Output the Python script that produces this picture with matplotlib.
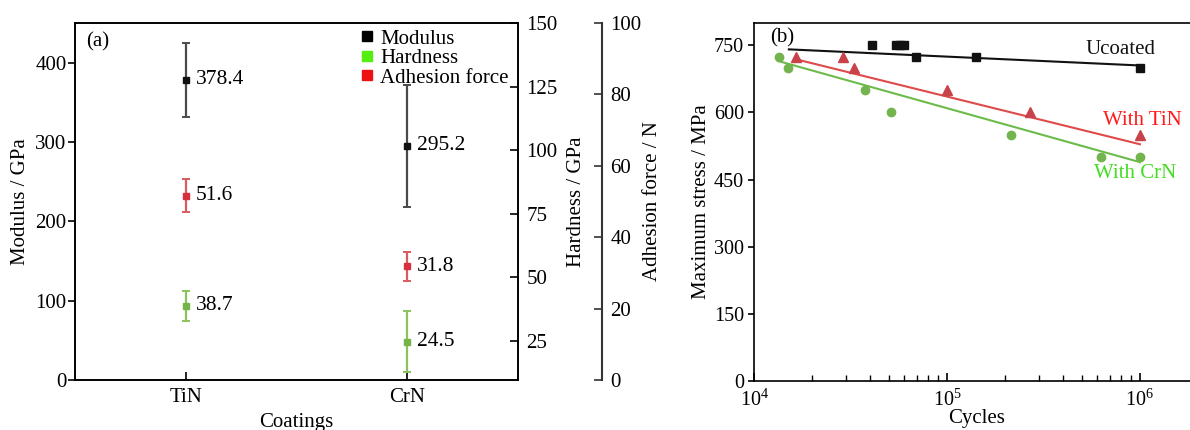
import numpy as np
import matplotlib
matplotlib.use("Agg")
import matplotlib.pyplot as plt
from matplotlib.lines import Line2D

plt.rcParams["font.family"] = ["Liberation Serif", "DejaVu Serif"]
plt.rcParams["mathtext.fontset"] = "custom"
plt.rcParams["mathtext.rm"] = "Liberation Serif"

# ---- panel (a) data ----
coatings = ["TiN", "CrN"]
modulus = [378.4, 295.2]
modulus_err = [47, 77]
hardness = [38.7, 24.5]
hardness_err = [6, 12]
adhesion = [51.6, 31.8]
adhesion_err = [4.6, 4.0]

# ---- panel (b) data ----
unc_cycles = [4.07e4, 5.4e4, 5.7e4, 5.95e4, 6.9e4, 1.42e5, 1.0e6]
unc_stress = [750, 750, 750, 750, 725, 725, 700]
tin_cycles = [1.64e4, 2.9e4, 3.3e4, 1.0e5, 2.7e5, 1.0e6]
tin_stress = [725, 725, 700, 650, 600, 550]
crn_cycles = [1.35e4, 1.49e4, 3.75e4, 5.1e4, 2.15e5, 6.3e5, 1.0e6]
crn_stress = [725, 700, 650, 600, 550, 500, 500]
# trend lines (start, end)
unc_fit_x = [1.51e4, 1.0e6]
unc_fit_y = [741, 705]
tin_fit_x = [1.64e4, 1.0e6]
tin_fit_y = [719, 529]
crn_fit_x = [1.33e4, 1.0e6]
crn_fit_y = [715, 489]

fig = plt.figure(figsize=(11.9, 4.3), dpi=100)

# ================= panel (a) =================
ax = fig.add_axes([0.063, 0.1163, 0.3723, 0.8302])
ax2 = ax.twinx()
ax3 = ax.twinx()
ax3.spines["right"].set_position(("axes", 1.19))
for s in ["top", "left", "bottom"]:
    ax3.spines[s].set_visible(False)
ax3.spines["right"].set_color("#333333")
ax3.spines["right"].set_linewidth(1.5)

x = np.arange(len(coatings))

ax.errorbar(x, modulus, yerr=modulus_err, fmt="s", ms=5, color="#111111",
            ecolor="#4a4a4a", elinewidth=1.6, capsize=3, capthick=1.4)
ax2.errorbar(x, hardness, yerr=hardness_err, fmt="s", ms=5, color="#74b446",
             ecolor="#8cc25e", elinewidth=1.6, capsize=3, capthick=1.4)
ax3.errorbar(x, adhesion, yerr=adhesion_err, fmt="s", ms=5, color="#d5303c",
             ecolor="#d95a60", elinewidth=1.6, capsize=3, capthick=1.4)

for i in range(len(coatings)):
    ax.annotate(f"{modulus[i]}", (x[i], modulus[i]), xytext=(7, 0),
                textcoords="offset points", va="center", fontsize=15.5)
    ax2.annotate(f"{hardness[i]}", (x[i], hardness[i]), xytext=(7, 0),
                 textcoords="offset points", va="center", fontsize=15.5)
    ax3.annotate(f"{adhesion[i]}", (x[i], adhesion[i]), xytext=(7, 0),
                 textcoords="offset points", va="center", fontsize=15.5)

ax.set_xlim(-0.5, 1.5)
ax.set_ylim(0, 450)
ax.set_yticks([0, 100, 200, 300, 400])
ax.set_xticks(x)
ax.set_xticklabels(coatings)
ax2.set_ylim(9.5, 150)
ax2.set_yticks([25, 50, 75, 100, 125, 150])
ax3.set_ylim(0, 100)
ax3.set_yticks([0, 20, 40, 60, 80, 100])

ax.tick_params(axis="y", direction="out", length=5, width=1.2, labelsize=15, pad=1)
ax.tick_params(axis="x", direction="in", length=6, width=1.2, labelsize=15, pad=6)
ax2.tick_params(axis="y", direction="in", length=6, width=1.2, labelsize=15, pad=6)
ax3.tick_params(axis="y", direction="in", length=6, width=1.2, labelsize=15, pad=6,
                color="#333333")
for a in (ax, ax2):
    for s in a.spines.values():
        s.set_linewidth(1.2)

ax.set_xlabel("Coatings", fontsize=15, labelpad=4)
ax.set_ylabel("Modulus / GPa", fontsize=15, labelpad=4)
ax2.set_ylabel("Hardness / GPa", fontsize=15, labelpad=7)
ax3.set_ylabel("Adhesion force / N", fontsize=15, labelpad=1)
ax.text(0.025, 0.975, "(a)", transform=ax.transAxes, fontsize=15, va="top")

handles = [
    Line2D([], [], marker="s", ls="none", color="#000000", ms=7),
    Line2D([], [], marker="s", ls="none", color="#55ee11", ms=7),
    Line2D([], [], marker="s", ls="none", color="#ee1111", ms=7),
]
ax.legend(handles, ["Modulus", "Hardness", "Adhesion force"], loc="upper left",
          bbox_to_anchor=(0.635, 0.995), frameon=False, fontsize=15,
          labelspacing=0.0, handlelength=0.6, handletextpad=0.35,
          borderaxespad=0.0, borderpad=0.2)

# ================= panel (b) =================
bx = fig.add_axes([0.6339, 0.114, 0.3728, 0.8326])
bx.set_xscale("log")
bx.plot(unc_fit_x, unc_fit_y, color="#111111", lw=1.5)
bx.plot(tin_fit_x, tin_fit_y, color="#df4a4a", lw=1.5)
bx.plot(crn_fit_x, crn_fit_y, color="#6cbb4a", lw=1.5)
bx.plot(unc_cycles, unc_stress, "s", color="#111111", ms=6)
bx.plot(tin_cycles, tin_stress, "^", color="#c8424a", ms=7)
bx.plot(crn_cycles, crn_stress, "o", color="#74b44e", ms=6)

bx.text(7.9e5, 741, "Ucoated", fontsize=15, ha="center", va="center", color="#111111")
bx.text(1.03e6, 582, "With TiN", fontsize=15, ha="center", va="center", color="#ff1a1a")
bx.text(9.4e5, 464, "With CrN", fontsize=15, ha="center", va="center", color="#44dd22")
bx.text(0.035, 0.985, "(b)", transform=bx.transAxes, fontsize=15, va="top")

bx.set_xlim(1e4, 2e6)
bx.set_ylim(0, 800)
bx.set_yticks([0, 150, 300, 450, 600, 750])
bx.set_xticks([1e4, 1e5, 1e6])
bx.tick_params(axis="x", which="major", direction="in", length=6, width=1.2,
               labelsize=14.5, pad=6)
bx.tick_params(axis="x", which="minor", direction="in", length=4, width=1.0)
bx.tick_params(axis="y", direction="out", length=4.5, width=1.2, labelsize=14.5, pad=3)
for s in bx.spines.values():
    s.set_linewidth(1.2)
bx.set_xlabel("Cycles", fontsize=15, labelpad=-1)
bx.set_ylabel("Maximum stress / MPa", fontsize=15, labelpad=2)

fig.savefig("out.png", dpi=100)
